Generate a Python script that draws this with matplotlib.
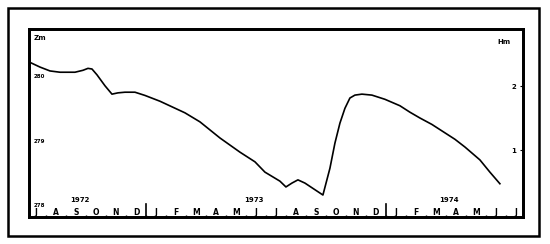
import matplotlib.pyplot as plt
from matplotlib.patches import Rectangle

# month index 0 = July 1972
months = ['J', 'A', 'S', 'O', 'N', 'D', 'J', 'F', 'M', 'A', 'M', 'J',
          'J', 'A', 'S', 'O', 'N', 'D', 'J', 'F', 'M', 'A', 'M', 'J', 'J']
years = ['1972', '1973', '1974']
year_pos = [2.2, 10.9, 20.65]

# lake level (Zm)
t = [-0.35, 0.2, 0.7, 1.2, 1.95, 2.35, 2.6, 2.8, 3.05, 3.45, 3.8, 4.1,
     4.45, 4.95, 5.45, 6.2, 7.45, 8.2, 9.2, 10.2, 10.95, 11.45, 12.2, 12.5,
     12.8, 13.1, 13.45, 14.35, 14.7, 14.95, 15.2, 15.45, 15.7, 15.95, 16.3,
     16.8, 17.45, 18.2, 18.7, 19.2, 19.8, 20.45, 20.95, 21.45, 22.2, 22.7, 23.2]
level = [280.22, 280.14, 280.08, 280.06, 280.06, 280.09, 280.12, 280.11,
         280.02, 279.85, 279.72, 279.74, 279.75, 279.75, 279.70, 279.61,
         279.43, 279.29, 279.04, 278.82, 278.67, 278.51, 278.37, 278.28,
         278.34, 278.39, 278.34, 278.155, 278.57, 278.96, 279.27, 279.50,
         279.66, 279.705, 279.72, 279.705, 279.64, 279.54, 279.44, 279.35,
         279.25, 279.12, 279.02, 278.90, 278.70, 278.51, 278.33]

fig = plt.figure(figsize=(5.5, 2.44), dpi=100)
fig.patches.append(Rectangle((0.0145, 0.033), 0.9655, 0.934, transform=fig.transFigure,
                             fill=False, lw=1.8, ec='black'))

ax = fig.add_axes([0.0527, 0.1107, 0.898, 0.770])
ax.plot(t, level, color='black', lw=1.2)
ax.set_xlim(-0.35, 24.35)
ax.set_ylim(277.814, 280.729)
for s in ax.spines.values():
    s.set_linewidth(2)

ax.set_xticks(range(len(months)))
ax.set_xticklabels(months, fontsize=5.5, fontweight='bold')
ax.set_xticks([i + 0.5 for i in range(len(months) - 1)], minor=True)
ax.tick_params(axis='x', which='major', length=0, pad=-6.5)
ax.tick_params(axis='x', which='minor', direction='in', length=1.5, width=1)

ax.set_yticks([278, 279, 280])
ax.set_yticklabels(['278', '279', '280'], fontsize=4, fontweight='bold')
ax.tick_params(axis='y', length=0, pad=-3)
for lab in ax.get_yticklabels():
    lab.set_ha('left')

for x in [5.5, 17.5]:
    ax.axvline(x, ymax=0.07, color='black', lw=1.2)
for y, p in zip(years, year_pos):
    ax.text(p, 0.088, y, transform=ax.get_xaxis_transform(), ha='center', va='center',
            fontsize=5, fontweight='bold')

ax.text(0.01, 0.97, 'Zm', transform=ax.transAxes, fontsize=5, fontweight='bold',
        ha='left', va='top')
ax.text(0.975, 0.95, 'Hm', transform=ax.transAxes, fontsize=5, fontweight='bold',
        ha='right', va='top')

ax2 = ax.twinx()
ax2.set_ylim(-0.047, 2.89)
ax2.set_yticks([1, 2])
ax2.set_yticklabels(['1', '2'], fontsize=5, fontweight='bold')
ax2.tick_params(axis='y', direction='in', length=2, pad=-5)
for lab in ax2.get_yticklabels():
    lab.set_ha('right')
for s in ax2.spines.values():
    s.set_linewidth(2)

fig.savefig('out.png', dpi=100)
